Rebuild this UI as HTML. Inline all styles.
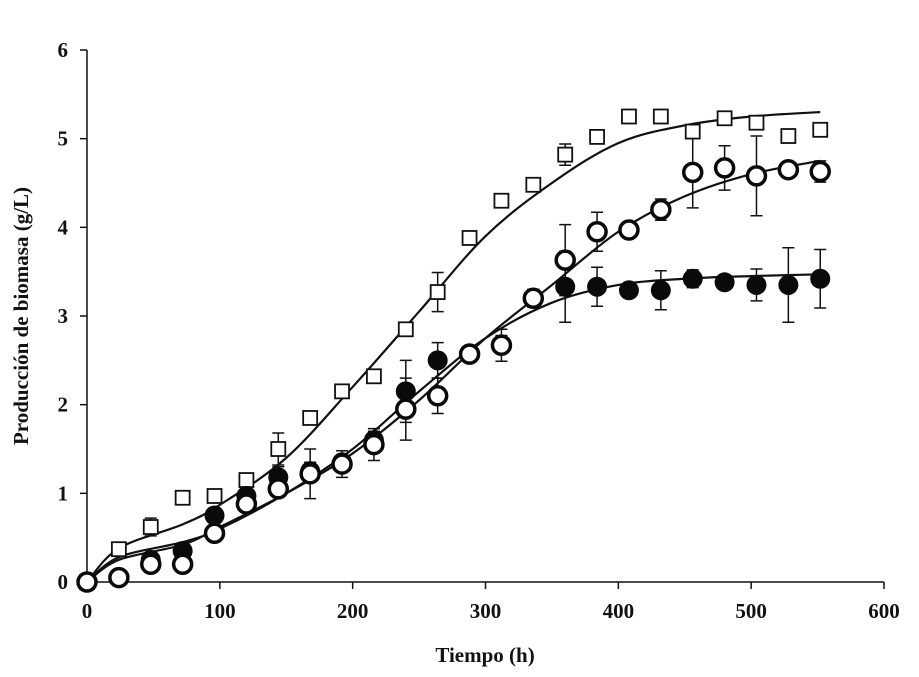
<!DOCTYPE html>
<html><head><meta charset="utf-8"><style>
body{margin:0;background:#fff}
svg text{font-family:"Liberation Serif",serif;font-weight:bold;fill:#111}
</style></head><body>
<svg id="c" width="919" height="672" xmlns="http://www.w3.org/2000/svg"></svg>
<script>
const times=[0,24,48,72,96,120,144,168,192,216,240,264,288,312,336,360,384,408,432,456,480,504,528,552];
const squareVals=[0,0.37,0.62,0.95,0.97,1.15,1.5,1.85,2.15,2.32,2.85,3.27,3.88,4.3,4.48,4.82,5.02,5.25,5.25,5.08,5.23,5.18,5.03,5.1];
const squareErr=[0,0.05,0.1,0.03,0.05,0.05,0.18,0.05,0.07,0.03,0.05,0.22,0.06,0.03,0.03,0.12,0.03,0.03,0.03,0.06,0.03,0.03,0.05,0.03];
const filledVals=[0,0.05,0.25,0.35,0.75,0.97,1.18,1.25,1.35,1.6,2.15,2.5,2.58,2.68,3.2,3.33,3.33,3.29,3.29,3.42,3.38,3.35,3.35,3.42];
const filledErr=[0,0,0.05,0.05,0.08,0.1,0.12,0.1,0.08,0.1,0.35,0.2,0.08,0.1,0.1,0.4,0.22,0.05,0.22,0.1,0.05,0.18,0.42,0.33];
const openVals=[0,0.05,0.2,0.2,0.55,0.88,1.05,1.22,1.33,1.55,1.95,2.1,2.57,2.67,3.2,3.63,3.95,3.97,4.2,4.62,4.67,4.58,4.65,4.63];
const openErr=[0,0,0.05,0.03,0.05,0.05,0.08,0.28,0.15,0.18,0.35,0.2,0.05,0.18,0.1,0.4,0.22,0.05,0.12,0.4,0.25,0.45,0.05,0.12];
const fitT=[0,24,72,100,150,200,250,300,350,400,450,500,552];
const fitSquare=[0,0.38,0.65,0.87,1.4,2.2,3.05,3.9,4.5,4.95,5.15,5.25,5.3];
const fitFilled=[0,0.28,0.45,0.6,1.0,1.5,2.15,2.75,3.15,3.35,3.42,3.45,3.47];
const fitOpen=[0,0.25,0.42,0.62,1.0,1.45,2.05,2.75,3.35,3.95,4.35,4.6,4.75];
const xTicks=[0,100,200,300,400,500,600];
const yTicks=[0,1,2,3,4,5,6];
const NS="http://www.w3.org/2000/svg",svg=document.getElementById('c');
const X=t=>87+t*(797/600), Y=v=>582-v*(532/6);
function mk(tag,a,p){const e=document.createElementNS(NS,tag);for(const k in a)e.setAttribute(k,a[k]);(p||svg).appendChild(e);return e;}
let e;
e=mk('line',{x1:87,y1:50,x2:87,y2:582,stroke:'#111','stroke-width':1.5});

e=mk('line',{x1:87,y1:582,x2:884,y2:582,stroke:'#111','stroke-width':1.5});

xTicks.forEach(t=>{mk('line',{x1:X(t),y1:582,x2:X(t),y2:589,stroke:'#111','stroke-width':1.5});
 e=mk('text',{x:X(t),y:618,'text-anchor':'middle','font-size':21});e.textContent=t;
 });
yTicks.forEach(v=>{mk('line',{x1:80,y1:Y(v),x2:87,y2:Y(v),stroke:'#111','stroke-width':1.5});
 e=mk('text',{x:68,y:Y(v)+7,'text-anchor':'end','font-size':21});e.textContent=v;
 });
e=mk('text',{x:485,y:662,'text-anchor':'middle','font-size':21});e.textContent='Tiempo  (h)';

e=mk('text',{x:0,y:0,'text-anchor':'middle','font-size':21,transform:'translate(28,316) rotate(-90)'});e.textContent='Producción  de biomasa  (g/L)';

function fit(vals,name){const p=fitT.map((t,i)=>[X(t),Y(vals[i])]);let d='M'+p[0][0]+','+p[0][1];
 for(let i=0;i<p.length-1;i++){const p0=p[i-1]||p[i],p1=p[i],p2=p[i+1],p3=p[i+2]||p2;
  d+=`C${p1[0]+(p2[0]-p0[0])/6},${p1[1]+(p2[1]-p0[1])/6} ${p2[0]-(p3[0]-p1[0])/6},${p2[1]-(p3[1]-p1[1])/6} ${p2[0]},${p2[1]}`;}
 e=mk('path',{d:d,fill:'none',stroke:'#111','stroke-width':2.2});
 }
function errs(vals,er){times.forEach((t,i)=>{if(!er[i])return;const x=X(t),a=Y(vals[i]+er[i]),b=Y(vals[i]-er[i]);
 mk('path',{d:`M${x},${a}V${b}M${x-6},${a}H${x+6}M${x-6},${b}H${x+6}`,stroke:'#111','stroke-width':1.5,fill:'none'});});}
fit(fitSquare,'fit-line-square');fit(fitFilled,'fit-line-filled');fit(fitOpen,'fit-line-open');
errs(squareVals,squareErr);errs(filledVals,filledErr);errs(openVals,openErr);
times.forEach((t,i)=>{e=mk('rect',{x:X(t)-7,y:Y(squareVals[i])-7,width:14,height:14,fill:'#fff',stroke:'#111','stroke-width':1.8});
 });
times.forEach((t,i)=>{e=mk('circle',{cx:X(t),cy:Y(filledVals[i]),r:10,fill:'#0a0a0a'});
 });
times.forEach((t,i)=>{e=mk('circle',{cx:X(t),cy:Y(openVals[i]),r:9,fill:'#fff',stroke:'#0a0a0a','stroke-width':3.5});
 });
</script>
</body></html>
